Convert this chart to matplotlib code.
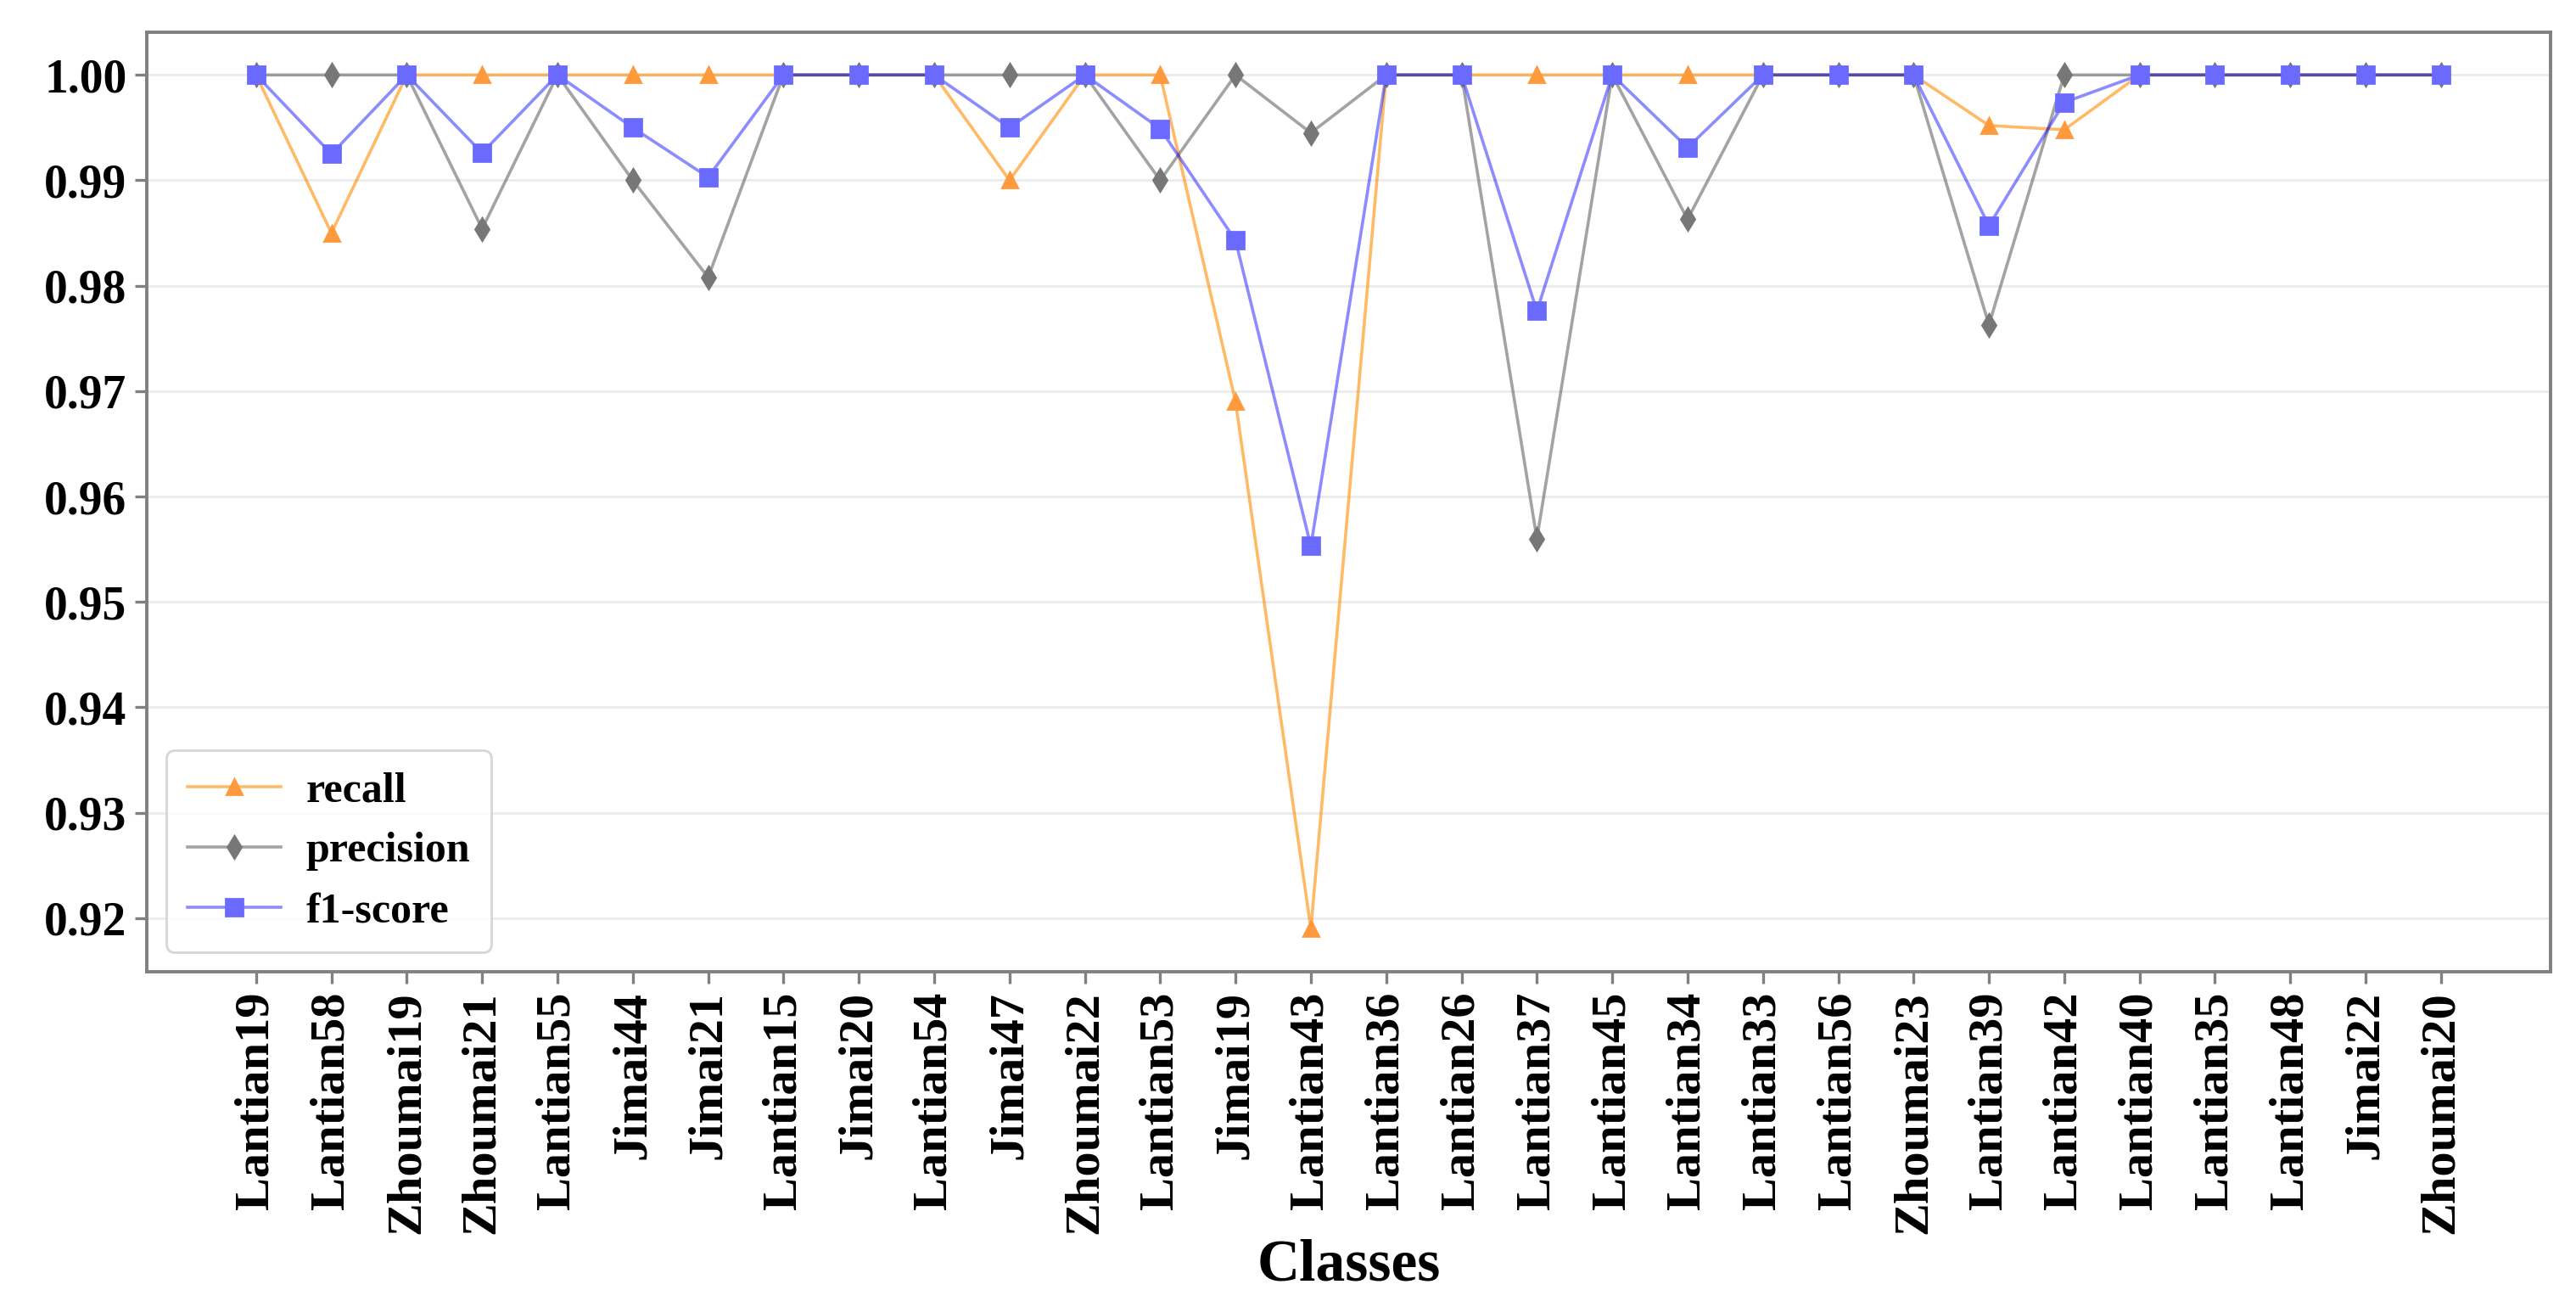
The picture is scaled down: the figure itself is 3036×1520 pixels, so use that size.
import matplotlib
matplotlib.use("Agg")
import matplotlib.pyplot as plt
import numpy as np

# Classes on the x axis
classes = ['Lantian19', 'Lantian58', 'Zhoumai19', 'Zhoumai21', 'Lantian55', 'Jimai44',
           'Jimai21', 'Lantian15', 'Jimai20', 'Lantian54', 'Jimai47', 'Zhoumai22',
           'Lantian53', 'Jimai19', 'Lantian43', 'Lantian36', 'Lantian26', 'Lantian37',
           'Lantian45', 'Lantian34', 'Lantian33', 'Lantian56', 'Zhoumai23', 'Lantian39',
           'Lantian42', 'Lantian40', 'Lantian35', 'Lantian48', 'Jimai22', 'Zhoumai20']

# Metrics per class
recall = [1.0, 0.985, 1.0, 1.0, 1.0, 1.0, 1.0, 1.0, 1.0, 1.0,
          0.990, 1.0, 1.0, 0.969, 0.919, 1.0, 1.0, 1.0, 1.0, 1.0,
          1.0, 1.0, 1.0, 0.9952, 0.9948, 1.0, 1.0, 1.0, 1.0, 1.0]
precision = [1.0, 1.0, 1.0, 0.9854, 1.0, 0.990, 0.9808, 1.0, 1.0, 1.0,
             1.0, 1.0, 0.990, 1.0, 0.9945, 1.0, 1.0, 0.956, 1.0, 0.9863,
             1.0, 1.0, 1.0, 0.9763, 1.0, 1.0, 1.0, 1.0, 1.0, 1.0]
f1_score = [1.0, 0.9925, 1.0, 0.9926, 1.0, 0.995, 0.9903, 1.0, 1.0, 1.0,
            0.995, 1.0, 0.9949, 0.9843, 0.9553, 1.0, 1.0, 0.9776, 1.0, 0.9931,
            1.0, 1.0, 1.0, 0.9857, 0.9974, 1.0, 1.0, 1.0, 1.0, 1.0]

plt.rcParams['font.family'] = ['Liberation Serif', 'DejaVu Serif']
plt.rcParams['font.weight'] = 'bold'

fig = plt.figure(figsize=(15.18, 7.6), dpi=200)
ax = fig.add_axes([0.057, 0.247, 0.933, 0.728])

x = np.arange(len(classes))
# lines lighter than the markers
ax.plot(x, recall, color=(1.0, 0.55, 0.0, 0.6), marker='^', markersize=6.5, lw=1.3,
        markerfacecolor='#ff9a3c', markeredgecolor='#ff9a3c', label='recall')
ax.plot(x, precision, color=(0.4, 0.4, 0.4, 0.6), marker='d', markersize=6.5, lw=1.3,
        markerfacecolor='#777777', markeredgecolor='#777777', label='precision')
ax.plot(x, f1_score, color=(0.0, 0.0, 1.0, 0.45), marker='s', markersize=7, lw=1.3,
        markerfacecolor='#6a6aff', markeredgecolor='#6a6aff', label='f1-score')

ax.set_xticks(x)
ax.set_xticklabels(classes, rotation=90, fontsize=21, fontweight='bold')
ax.set_yticks([0.92, 0.93, 0.94, 0.95, 0.96, 0.97, 0.98, 0.99, 1.00])
ax.set_yticklabels([f'{v:.2f}' for v in ax.get_yticks()], fontsize=20, fontweight='bold')
ax.grid(axis='y', color='#ebebeb', lw=1.0)
ax.set_axisbelow(True)

for s in ax.spines.values():
    s.set_color('#808080')
    s.set_linewidth(1.4)
ax.tick_params(colors='#808080', labelcolor='black', length=5, width=1.2)

ax.set_xlabel('Classes', fontsize=25, fontweight='bold', labelpad=2)
ax.legend(loc='lower left', prop={'size': 18, 'weight': 'bold'}, handlelength=2.2,
          handletextpad=0.6, borderaxespad=0.45, borderpad=0.5, labelspacing=0.5)

fig.savefig('out.png', dpi=200)
